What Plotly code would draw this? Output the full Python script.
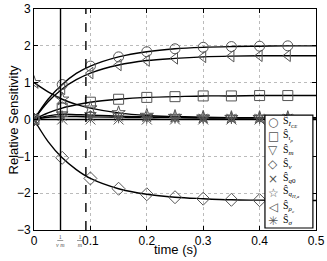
import plotly.graph_objects as go

# time grid (s)
t = [0, 0.025, 0.05, 0.075, 0.1, 0.15, 0.2, 0.25, 0.3, 0.35, 0.4, 0.45, 0.5]
marker_times = [0, 0.05, 0.1, 0.15, 0.2, 0.25, 0.3, 0.35, 0.4, 0.45]

S_ICE = [0, 0.55, 0.95, 1.25, 1.45, 1.70, 1.84, 1.92, 1.96, 1.98, 1.99, 2.0, 2.0]
S_irho = [0, 0.18, 0.31, 0.40, 0.47, 0.55, 0.60, 0.62, 0.64, 0.64, 0.65, 0.65, 0.65]
S_m = [0, 0.10, 0.14, 0.13, 0.12, 0.09, 0.07, 0.06, 0.05, 0.05, 0.05, 0.05, 0.05]
S_nu = [0, -0.60, -1.04, -1.36, -1.60, -1.88, -2.03, -2.11, -2.15, -2.18, -2.19, -2.20, -2.20]
S_q0 = [0, 0.0, 0.0, 0.0, 0.0, 0.0, 0.0, 0.0, 0.0, 0.0, 0.0, 0.0, 0.0]
S_qHa = [1.0, 0.75, 0.55, 0.41, 0.31, 0.18, 0.11, 0.08, 0.06, 0.05, 0.05, 0.05, 0.05]
S_rhoc = [0, 0.48, 0.83, 1.08, 1.26, 1.48, 1.60, 1.66, 1.70, 1.72, 1.73, 1.73, 1.73]
S_sigma = [0, 0.06, 0.08, 0.08, 0.07, 0.06, 0.05, 0.05, 0.04, 0.04, 0.04, 0.04, 0.04]

labels = ["Ŝ<sub><i>I</i><sub><i>CE</i></sub></sub>", "Ŝ<sub><i>ι<sub>ρ</sub></i></sub>", "Ŝ<sub><i>m</i></sub>",
          "Ŝ<sub><i>ν</i></sub>", "Ŝ<sub><i>q</i>0</sub>", "Ŝ<sub><i>q<sub>H,a</sub></i></sub>",
          "Ŝ<sub><i>ρ<sub>c</sub></i></sub>", "Ŝ<sub><i>σ</i></sub>"]
series = [S_ICE, S_irho, S_m, S_nu, S_q0, S_qHa, S_rhoc, S_sigma]
symbols = ["circle-open", "square-open", "triangle-down-open", "diamond-open",
           "x-thin-open", "star-open", "triangle-left-open", "asterisk-open"]
legend_glyphs = ["○", "□", "▽", "◇", "×", "☆", "◁", "✳"]

x_ticks = [0, 0.1, 0.2, 0.3, 0.4, 0.5]
y_ticks = [-3, -2, -1, 0, 1, 2, 3]

# characteristic times
tau_num = 0.047   # 1/(nu m)
tau_m = 0.092     # 1/m

MK = "#555555"
fig = go.Figure()
for ys in series:
    fig.add_trace(go.Scatter(x=t, y=ys, mode="lines", line=dict(color="black", width=1.4, shape="spline"),
                             showlegend=False, hoverinfo="skip"))
for ys, lab, sym in zip(series, labels, symbols):
    mx = [tt for tt in t if tt in marker_times]
    my = [v for tt, v in zip(t, ys) if tt in marker_times]
    fig.add_trace(go.Scatter(x=mx, y=my, mode="markers", name=lab, showlegend=False,
                             marker=dict(symbol=sym, size=10, color=MK, line=dict(width=1, color=MK))))

fig.add_shape(type="line", x0=tau_num, x1=tau_num, y0=-3, y1=3, xref="x", yref="y",
              line=dict(color="black", width=1.4))
fig.add_shape(type="line", x0=tau_m, x1=tau_m, y0=-3, y1=3, xref="x", yref="y",
              line=dict(color="black", width=1.4, dash="dash"))

# legend box (opaque), drawn above the data
LX0, LX1, LY0, LY1 = 0.819, 0.989, 0.009, 0.520
fig.add_shape(type="rect", xref="paper", yref="paper", x0=LX0, x1=LX1, y0=LY0, y1=LY1,
              fillcolor="white", line=dict(color="black", width=1.2), layer="above")
n = len(labels)
for i, (g, lab) in enumerate(zip(legend_glyphs, labels)):
    yy = LY1 - (LY1 - LY0) * (i + 0.5) / n
    fig.add_annotation(x=0.848, y=yy, xref="paper", yref="paper", xanchor="center", yanchor="middle",
                       text=g, showarrow=False, font=dict(family="DejaVu Sans", size=12, color=MK))
    fig.add_annotation(x=0.876, y=yy, xref="paper", yref="paper", xanchor="left", yanchor="middle",
                       text=lab, showarrow=False,
                       font=dict(family="Liberation Serif", size=10, color="black"))

for xv, den, xs in [(tau_num, "ν m", 0), (tau_m, "m", -6)]:
    fig.add_annotation(x=xv, y=-3, xref="x", yref="y", yanchor="top", yshift=-2, xshift=xs,
                       text="<u>&nbsp;1&nbsp;</u><br><i>%s</i>" % den, showarrow=False,
                       font=dict(size=6, color="#555555", family="Liberation Serif"))

# axis titles
fig.add_annotation(x=-0.071, y=0.5, xref="paper", yref="paper", textangle=-90,
                   text="Relative Sensitivity", showarrow=False, xanchor="center", yanchor="middle",
                   font=dict(family="Liberation Sans", size=13, color="black"))
fig.add_annotation(x=0.5, y=-0.09, xref="paper", yref="paper",
                   text="time (s)", showarrow=False, xanchor="center", yanchor="middle",
                   font=dict(family="Liberation Sans", size=13, color="black"))

fig.update_layout(
    width=327, height=261,
    margin=dict(l=34, r=11, t=9, b=31),
    paper_bgcolor="white", plot_bgcolor="white",
    font=dict(family="Liberation Sans", size=12, color="black"),
    showlegend=False,
    xaxis=dict(range=[0, 0.5], tickvals=x_ticks,
               ticktext=["0", "0.1", "0.2", "0.3", "0.4", "0.5"],
               showgrid=True, gridcolor="#bbbbbb", griddash="dot", gridwidth=1,
               showline=True, mirror="ticks", linecolor="black", linewidth=1,
               ticks="inside", ticklen=4, tickcolor="black", zeroline=False,
               automargin=False, tickfont=dict(size=12)),
    yaxis=dict(range=[-3, 3], tickvals=y_ticks,
               ticktext=["−3", "−2", "−1", "0", "1", "2", "3"],
               showgrid=True, gridcolor="#bbbbbb", griddash="dot", gridwidth=1,
               showline=True, mirror="ticks", linecolor="black", linewidth=1,
               ticks="inside", ticklen=4, tickcolor="black", zeroline=False,
               automargin=False, tickfont=dict(size=12)),
)

fig.write_html("out.html", config={"displayModeBar": False},
               post_script="document.body.style.margin='0';")
